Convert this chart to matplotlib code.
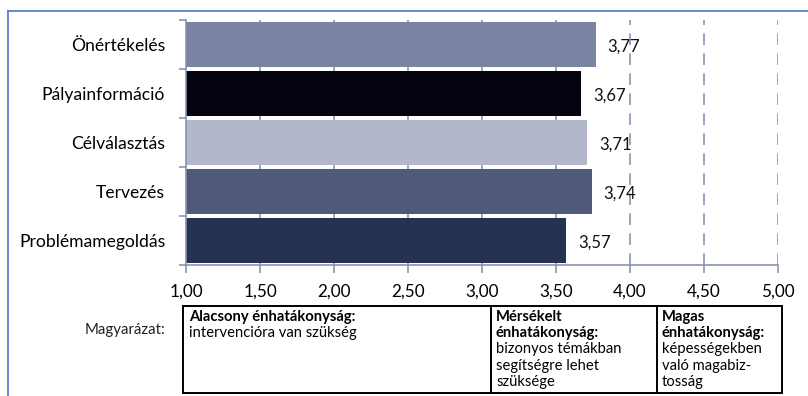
import numpy as np
import matplotlib.pyplot as plt
from matplotlib.patches import Rectangle
from matplotlib.lines import Line2D

plt.rcParams['font.family'] = ['Lato', 'DejaVu Sans']

# átlagpontszámok skálánként
skalak = ['Önértékelés', 'Pályainformáció', 'Célválasztás', 'Tervezés', 'Problémamegoldás']
ertekek = [3.77, 3.67, 3.71, 3.74, 3.57]
szinek = ['#7b83a2', '#03040f', '#b3b7cb', '#515978', '#263254']
tengely_ticks = [1.0, 1.5, 2.0, 2.5, 3.0, 3.5, 4.0, 4.5, 5.0]

W, H = 808, 396
fig = plt.figure(figsize=(W / 100, H / 100), dpi=100)

def px(x, y):
    # pixel -> figure fraction
    return x / W, 1 - y / H

ax = fig.add_axes([186 / W, 1 - 265 / H, 592 / W, 245 / H])
racs = '#8a93b3'

y = np.arange(len(skalak))
ax.barh(y, [v - 1 for v in ertekek], left=1, height=0.92, color=szinek, zorder=2)
for yi, v in zip(y, ertekek):
    ax.annotate(f'{v:.2f}'.replace('.', ','), (v, yi), xytext=(8.5, -1.5),
                textcoords='offset points', va='center', ha='left', fontsize=12, color='#111111')

# rácsvonalak: 4 alatt folytonos, felette szaggatott
for t in tengely_ticks[1:]:
    if t < 4:
        ax.axvline(t, color=racs, lw=1.2, zorder=1)
    else:
        ax.axvline(t, color=racs, lw=1.2, ls=(0, (7, 5)), zorder=1)

ax.set_xlim(1, 5)
ax.set_ylim(len(skalak) - 0.5, -0.5)
ax.set_xticks(tengely_ticks)
ax.set_xticklabels([f'{t:.2f}'.replace('.', ',') for t in tengely_ticks], fontsize=12.3)
ax.set_yticks(y)
ax.set_yticklabels(skalak, fontsize=12.6)
ax.set_yticks(np.arange(len(skalak) + 1) - 0.5, minor=True)
ax.tick_params(axis='y', which='major', length=0, pad=15)
ax.tick_params(axis='y', which='minor', length=5, color=racs, width=1.2, direction='out')
ax.tick_params(axis='x', length=5.5, color=racs, width=1.2, direction='out', pad=8)
for s in ['top', 'right']:
    ax.spines[s].set_visible(False)
for s in ['left', 'bottom']:
    ax.spines[s].set_color(racs)
    ax.spines[s].set_linewidth(1.2)

# kék keret a bal és felső szélen
fig.add_artist(Line2D([8 / W, 8 / W], [0, 1 - 11 / H], color='#4a78c8', lw=1.2))
fig.add_artist(Line2D([8 / W, 1], [1 - 11 / H, 1 - 11 / H], color='#4a78c8', lw=1.2))

# magyarázó táblázat
fig.text(*px(165, 330), 'Magyarázat:', ha='right', va='center', fontsize=10.8, color='#222222')
bx0, by0, bx1, by1 = 183, 306, 782, 393
fig.add_artist(Rectangle(px(bx0, by1), (bx1 - bx0) / W, (by1 - by0) / H,
                         fill=False, ec='black', lw=1.4, transform=fig.transFigure))
for xd in [491, 657]:
    fig.add_artist(Line2D([xd / W, xd / W], [1 - by0 / H, 1 - by1 / H], color='black', lw=1.4))

sor = 16.2
cellak = [
    (189, ['Alacsony énhatákonyság:'], ['intervencióra van szükség']),
    (496, ['Mérsékelt', 'énhatákonyság:'], ['bizonyos témákban', 'segítségre lehet', 'szüksége']),
    (662, ['Magas', 'énhatákonyság:'], ['képességekben', 'való magabiz-', 'tosság']),
]
for x0, felk, szov in cellak:
    yy = 317
    for s in felk:
        fig.text(*px(x0, yy), s, ha='left', va='center', fontsize=10.6, fontweight='bold', color='black')
        yy += sor
    for s in szov:
        fig.text(*px(x0, yy), s, ha='left', va='center', fontsize=10.6, color='black')
        yy += sor

fig.savefig('out.png', dpi=100)
